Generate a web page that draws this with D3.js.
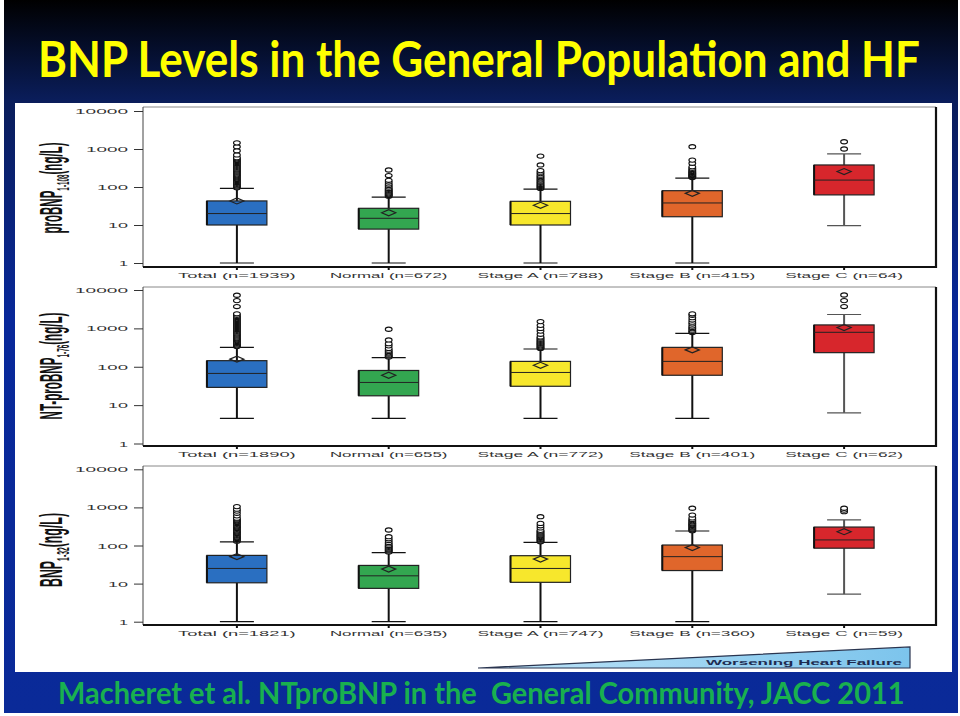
<!DOCTYPE html>
<html><head><meta charset="utf-8">
<script src="https://cdn.jsdelivr.net/npm/d3@7"></script>
<style>body{margin:0;background:#fff}svg{display:block}</style>
</head><body><svg id="c" width="960" height="716"></svg>
<script>
// ---------- DATA ----------
const categories = ["Total", "Normal", "Stage A", "Stage B", "Stage C"];
const tickValues = [1, 10, 100, 1000, 10000];

// Panel 1: proBNP 1-108
const proBNP_n    = [1939, 672, 788, 415, 64];
const proBNP_lo   = [1, 1, 1, 1, 9.6];
const proBNP_q1   = [10, 7.8, 10, 16.5, 62];
const proBNP_med  = [20, 15, 20, 38, 152];
const proBNP_q3   = [43, 27.5, 42, 80, 380];
const proBNP_hi   = [92, 54, 88, 172, 740];
const proBNP_mean = [43, 21, 33, 68, 255];
const proBNP_out  = [
  [95,100,106,112,118,125,132,140,148,157,166,176,186,197,209,221,234,248,263,279,295,313,331,351,372,394,417,442,468,496,525,556,590,700,900,1150,1450],
  [57,60,63,66,70,74,78,82,87,92,100,110,120,135,150,200,280],
  [92,97,103,110,117,125,133,142,152,163,175,190,205,225,245,270,380,650],
  [178,185,192,200,210,220,230,242,255,270,290,310,340,420,510,1150],
  [1000,1550]
];

// Panel 2: NT-proBNP 1-76
const ntBNP_n    = [1890, 655, 772, 401, 62];
const ntBNP_lo   = [4.5, 4.5, 4.5, 4.5, 6.3];
const ntBNP_q1   = [29, 17.5, 31, 60, 233];
const ntBNP_med  = [67, 39, 71, 138, 790];
const ntBNP_q3   = [144, 80, 138, 320, 1230];
const ntBNP_hi   = [320, 172, 290, 740, 2300];
const ntBNP_mean = [158, 60, 109, 275, 1050];
const ntBNP_out  = [
  [335,350,370,390,410,430,455,480,505,535,565,600,635,670,710,750,795,840,890,940,1000,1060,1120,1190,1260,1340,1420,1510,1600,1700,1800,1920,2050,2200,2400,3700,5300,7300],
  [180,190,200,215,230,250,270,300,350,400,500,950],
  [300,315,330,350,370,390,410,435,460,490,520,560,600,700,850,1000,1200,1500],
  [780,830,900,980,1050,1150,1300,1450,1650,1900,2200,2400],
  [3700,5300,7400]
];

// Panel 3: BNP 1-32
const bnp_n    = [1821, 635, 747, 360, 59];
const bnp_lo   = [1, 1, 1, 1, 5.3];
const bnp_q1   = [10.5, 7.5, 10.8, 22, 85];
const bnp_med  = [25, 16, 25, 51, 140];
const bnp_q3   = [55, 30, 54, 103, 305];
const bnp_hi   = [125, 65, 121, 240, 470];
const bnp_mean = [51, 24, 44, 88, 230];
const bnp_out  = [
  [130,137,144,152,160,168,177,186,196,206,217,228,240,252,265,279,294,309,325,342,360,380,400,420,445,470,495,520,600,700,800,900,1050],
  [68,72,76,80,85,90,95,100,110,120,135,150,170,255],
  [125,132,139,146,154,162,171,180,190,200,212,225,238,250,290,330,380,570],
  [245,258,272,287,302,318,335,353,372,392,420,450,480,530,630,950],
  [770,850,950]
];

const boxColors = ["#2a6fc1", "#33a650", "#f7e72c", "#e0662b", "#d7262c"];

// ---------- LAYOUT ----------
const svg = d3.select("#c");
const defs = svg.append("defs");
const bg = defs.append("linearGradient").attr("id","bg").attr("x1",0).attr("y1",0).attr("x2",0).attr("y2",1);
bg.append("stop").attr("offset","0").attr("stop-color","#000000");
bg.append("stop").attr("offset","0.14").attr("stop-color","#0a1d5a");
bg.append("stop").attr("offset","0.45").attr("stop-color","#08289a");
bg.append("stop").attr("offset","1").attr("stop-color","#0a2a98");
const wg = defs.append("linearGradient").attr("id","wedge").attr("x1",0).attr("y1",0).attr("x2",1).attr("y2",0);
wg.append("stop").attr("offset","0").attr("stop-color","#bfe4f8");
wg.append("stop").attr("offset","1").attr("stop-color","#7cc4ec");

svg.append("rect").attr("x",0).attr("y",0).attr("width",960).attr("height",716).attr("fill","#fff");
svg.append("rect").attr("x",4).attr("y",0).attr("width",954).attr("height",713).attr("fill","url(#bg)");
svg.append("rect").attr("x",15).attr("y",103).attr("width",937).attr("height",569).attr("fill","#fff");

// fit a text horizontally to a given width by scaling
function fitText(sel, x0, y0, width) {
  const w = sel.node().getComputedTextLength();
  sel.attr("x", 0).attr("y", 0)
     .attr("transform", `translate(${x0},${y0}) scale(${width / w},1)`);
}

const title = svg.append("text")
  .attr("font-family","Lato, 'Open Sans', sans-serif").attr("font-weight","bold")
  .attr("font-size",50).attr("fill","#ffff00")
  .text("BNP Levels in the General Population and HF");
fitText(title, 38, 77, 882);

const foot = svg.append("text")
  .attr("font-family","Lato, 'Open Sans', sans-serif").attr("font-weight","bold")
  .attr("font-size",31).attr("fill","#19b04f")
  .style("white-space","pre")
  .text("Macheret et al. NTproBNP in the  General Community, JACC 2011");
fitText(foot, 58, 704, 847);

const x = d3.scaleBand().domain(categories).range([161, 920]).padding(0);
const cx = c => x(c) + x.bandwidth() / 2;

const panels = [
  {y1:263, y4:111, top:107, bottom:267, n:proBNP_n, lo:proBNP_lo, q1:proBNP_q1, med:proBNP_med, q3:proBNP_q3, hi:proBNP_hi, mean:proBNP_mean, out:proBNP_out,
   title:["proBNP","1-108","(ng/L)"], tlen:91, tcy:188},
  {y1:443.5, y4:290, top:287, bottom:446, n:ntBNP_n, lo:ntBNP_lo, q1:ntBNP_q1, med:ntBNP_med, q3:ntBNP_q3, hi:ntBNP_hi, mean:ntBNP_mean, out:ntBNP_out,
   title:["NT-proBNP","1-76","(ng/L)"], tlen:107, tcy:366},
  {y1:621.7, y4:469.3, top:466, bottom:625, n:bnp_n, lo:bnp_lo, q1:bnp_q1, med:bnp_med, q3:bnp_q3, hi:bnp_hi, mean:bnp_mean, out:bnp_out,
   title:["BNP","1-32","(ng/L)"], tlen:74, tcy:550}
];

const plotL = 143, plotR = 936;

panels.forEach(p => {
  const y = d3.scaleLog().domain([1, 10000]).range([p.y1, p.y4]);
  const g = svg.append("g");

  // frame
  g.append("line").attr("x1",plotL).attr("x2",plotR).attr("y1",p.top).attr("y2",p.top).attr("stroke","#888").attr("stroke-width",1);
  g.append("line").attr("x1",plotL).attr("x2",plotL).attr("y1",p.top).attr("y2",p.bottom).attr("stroke","#444").attr("stroke-width",1);
  g.append("line").attr("x1",plotR).attr("x2",plotR).attr("y1",p.top).attr("y2",p.bottom+1).attr("stroke","#111").attr("stroke-width",2.2);
  g.append("line").attr("x1",plotL).attr("x2",plotR+1).attr("y1",p.bottom).attr("y2",p.bottom).attr("stroke","#111").attr("stroke-width",1.8);

  // y axis
  const ya = g.append("g").attr("transform",`translate(${plotL},0)`)
    .call(d3.axisLeft(y).tickValues(tickValues).tickSize(9).tickPadding(6).tickFormat(d3.format("d")));
  ya.select(".domain").remove();
  ya.selectAll("line").attr("stroke","#333");
  ya.selectAll("text")
    .attr("font-family","'Liberation Sans', Arial, sans-serif").attr("font-size",8).attr("fill","#333")
    .attr("textLength", d => String(d).length * 11 - 2).attr("lengthAdjust","spacingAndGlyphs");

  // x axis
  const xa = g.append("g").attr("transform",`translate(0,${p.bottom})`)
    .call(d3.axisBottom(x).tickSize(3).tickPadding(2).tickFormat((d,i) => `${d} (n=${p.n[i]})`));
  xa.select(".domain").remove();
  xa.selectAll("line").attr("stroke","#111").attr("stroke-width",2);
  xa.selectAll("text")
    .attr("font-family","'Liberation Sans', Arial, sans-serif").attr("font-size",8).attr("fill","#333")
    .attr("textLength", function(){ return this.textContent.length * 8.4; }).attr("lengthAdjust","spacingAndGlyphs");

  // y title
  const t = g.append("text")
    .attr("transform",`translate(62,${p.tcy}) rotate(-90)`)
    .attr("text-anchor","middle")
    .attr("font-family","'Liberation Sans Narrow', 'Arial Narrow', 'Liberation Sans', sans-serif")
    .attr("font-weight","bold")
    .attr("font-size",31).attr("fill","#111")
    .attr("textLength",p.tlen).attr("lengthAdjust","spacingAndGlyphs");
  t.append("tspan").text(p.title[0]);
  t.append("tspan").attr("font-size",17).attr("dy",7).text(p.title[1]);
  t.append("tspan").attr("dy",-7).text(p.title[2]);

  // boxes
  categories.forEach((c, i) => {
    const xc = cx(c);
    const wcol = i === 4 ? "#555" : "#111";
    g.append("line").attr("x1",xc).attr("x2",xc).attr("y1",y(p.lo[i])).attr("y2",y(p.q1[i])).attr("stroke",wcol).attr("stroke-width",2);
    g.append("line").attr("x1",xc).attr("x2",xc).attr("y1",y(p.q3[i])).attr("y2",y(p.hi[i])).attr("stroke",wcol).attr("stroke-width",2);
    [p.lo[i], p.hi[i]].forEach(v => {
      g.append("line").attr("x1",xc-17).attr("x2",xc+17).attr("y1",y(v)).attr("y2",y(v)).attr("stroke",wcol).attr("stroke-width",1.2);
    });
    // outliers
    g.selectAll(null).data(p.out[i]).enter().append("ellipse")
      .attr("cx",xc).attr("cy",v => y(v)).attr("rx",3.4).attr("ry",2.1)
      .attr("fill","#fff").attr("stroke","#111").attr("stroke-width",1.1);
    // box
    g.append("rect").attr("x",xc-30).attr("width",60)
      .attr("y",y(p.q3[i])).attr("height",y(p.q1[i]) - y(p.q3[i]))
      .attr("fill",boxColors[i]).attr("stroke","#222").attr("stroke-width",1.2);
    g.append("line").attr("x1",xc-30).attr("x2",xc-30).attr("y1",y(p.q3[i])).attr("y2",y(p.q1[i])).attr("stroke","#111").attr("stroke-width",2);
    g.append("line").attr("x1",xc-30).attr("x2",xc+30).attr("y1",y(p.med[i])).attr("y2",y(p.med[i])).attr("stroke","#222").attr("stroke-width",1);
    const ym = y(p.mean[i]);
    g.append("path").attr("d",`M${xc-7},${ym}L${xc},${ym-3}L${xc+7},${ym}L${xc},${ym+3}Z`)
      .attr("fill","none").attr("stroke","#222").attr("stroke-width",1.2);
  });
});

// worsening heart failure wedge
svg.append("path").attr("d","M478,668L910,647L910,668Z").attr("fill","url(#wedge)")
  .attr("stroke","#2a3550").attr("stroke-width",1.2);
svg.append("text").attr("x",706).attr("y",665)
  .attr("font-family","'Liberation Sans', Arial, sans-serif").attr("font-weight","bold")
  .attr("font-size",8).attr("fill","#1d2b50")
  .attr("textLength",196).attr("lengthAdjust","spacingAndGlyphs")
  .text("Worsening Heart Failure");
</script></body></html>
